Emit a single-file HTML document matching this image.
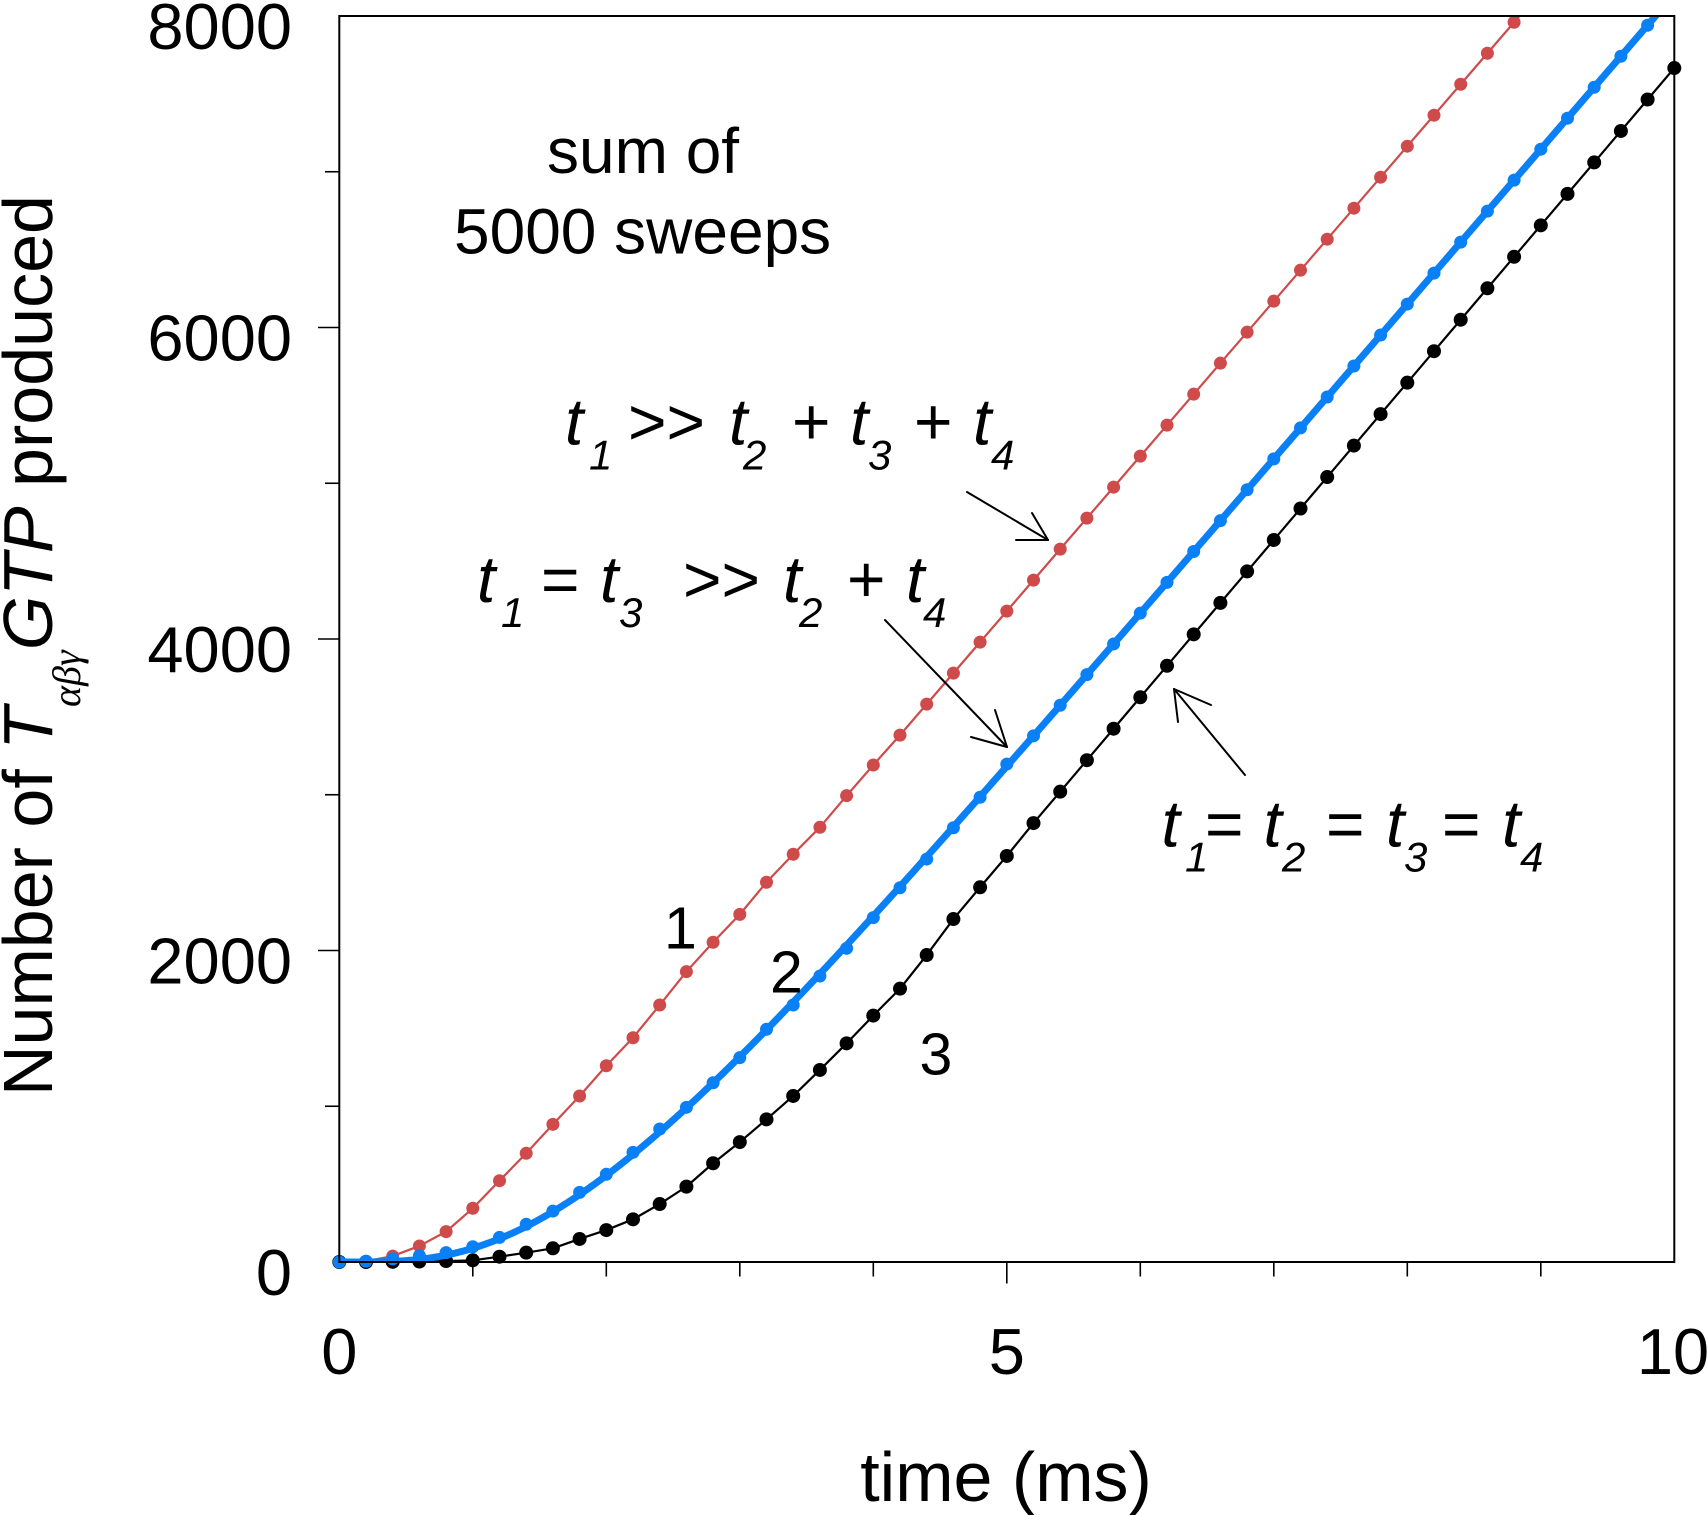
<!DOCTYPE html>
<html>
<head>
<meta charset="utf-8">
<style>
  html, body { margin: 0; padding: 0; background: #ffffff; }
  body { width: 1707px; height: 1515px; overflow: hidden; position: relative; }
  svg { position: absolute; left: 0; top: 0; }
  .tl { font-family: "Liberation Sans", Arial, sans-serif; font-size: 65px; fill: #000; }
  .ti { font-family: "Liberation Sans", Arial, sans-serif; font-size: 70px; fill: #000; }
  .an { font-family: "Liberation Sans", Arial, sans-serif; font-size: 64px; fill: #000; }
  .it { font-family: "Liberation Sans", Arial, sans-serif; font-style: italic; font-size: 66px; fill: #000; }
  .sb { font-family: "Liberation Sans", Arial, sans-serif; font-style: italic; font-size: 42px; fill: #000; }
  .nm { font-family: "Liberation Sans", Arial, sans-serif; font-size: 59px; fill: #000; }
</style>
</head>
<body>
<svg id="chart" width="1707" height="1515" viewBox="0 0 1707 1515" xmlns="http://www.w3.org/2000/svg">
  <defs>
    <clipPath id="plotclip">
      <rect x="339.3" y="16" width="1335" height="1246"/>
    </clipPath>
  </defs>

  <!-- data layers -->
  <g id="series"></g>

  <!-- axes box -->
  <rect x="339.3" y="16" width="1335" height="1246" fill="none" stroke="#000" stroke-width="2"/>

  <!-- y ticks -->
  <g stroke="#000" stroke-width="1.6">
    <line x1="325" y1="1106.25" x2="339.3" y2="1106.25"/>
    <line x1="318" y1="950.5" x2="339.3" y2="950.5"/>
    <line x1="325" y1="794.75" x2="339.3" y2="794.75"/>
    <line x1="318" y1="639" x2="339.3" y2="639"/>
    <line x1="325" y1="483.25" x2="339.3" y2="483.25"/>
    <line x1="318" y1="327.5" x2="339.3" y2="327.5"/>
    <line x1="325" y1="171.75" x2="339.3" y2="171.75"/>
  </g>
  <!-- x ticks -->
  <g stroke="#000" stroke-width="1.6">
    <line x1="472.8" y1="1262" x2="472.8" y2="1276.5"/>
    <line x1="606.3" y1="1262" x2="606.3" y2="1276.5"/>
    <line x1="739.8" y1="1262" x2="739.8" y2="1276.5"/>
    <line x1="873.3" y1="1262" x2="873.3" y2="1276.5"/>
    <line x1="1006.8" y1="1262" x2="1006.8" y2="1283.5"/>
    <line x1="1140.3" y1="1262" x2="1140.3" y2="1276.5"/>
    <line x1="1273.8" y1="1262" x2="1273.8" y2="1276.5"/>
    <line x1="1407.3" y1="1262" x2="1407.3" y2="1276.5"/>
    <line x1="1540.8" y1="1262" x2="1540.8" y2="1276.5"/>
  </g>

  <!-- y tick labels -->
  <text class="tl" x="292" y="1295" text-anchor="end">0</text>
  <text class="tl" x="292" y="983.5" text-anchor="end">2000</text>
  <text class="tl" x="292" y="672" text-anchor="end">4000</text>
  <text class="tl" x="292" y="360.5" text-anchor="end">6000</text>
  <text class="tl" x="292" y="49" text-anchor="end">8000</text>

  <!-- x tick labels -->
  <text class="tl" x="339.3" y="1374" text-anchor="middle">0</text>
  <text class="tl" x="1006.8" y="1374" text-anchor="middle">5</text>
  <text class="tl" x="1673" y="1374" text-anchor="middle">10</text>

  <!-- axis titles -->
  <text class="ti" x="1006" y="1501" text-anchor="middle">time (ms)</text>
  <text class="ti" transform="translate(52,1096) rotate(-90)" x="0" y="0">Number of <tspan font-style="italic">T</tspan><tspan font-family="'Liberation Serif', serif" font-style="italic" font-size="40" dy="28">αβγ</tspan><tspan font-style="italic" dy="-28">GTP</tspan> produced</text>

  <!-- annotation: sum of 5000 sweeps -->
  <text class="an" x="547" y="173">sum of</text>
  <text class="an" x="454" y="253.5">5000 sweeps</text>

  <!-- label line 1: t1 >> t2 + t3 + t4 -->
  <text class="it" x="565" y="444.6">t</text>
  <text class="sb" x="589" y="469.6">1</text>
  <text class="it" x="627" y="444.6">&gt;&gt;</text>
  <text class="it" x="729" y="444.6">t</text>
  <text class="sb" x="743" y="469.6">2</text>
  <text class="it" x="791" y="444.6">+</text>
  <text class="it" x="850" y="444.6">t</text>
  <text class="sb" x="868" y="469.6">3</text>
  <text class="it" x="913" y="444.6">+</text>
  <text class="it" x="973" y="444.6">t</text>
  <text class="sb" x="991" y="469.6">4</text>

  <!-- label line 2: t1 = t3 >> t2 + t4 -->
  <text class="it" x="477" y="601.8">t</text>
  <text class="sb" x="501" y="626.8">1</text>
  <text class="it" x="540" y="601.8">=</text>
  <text class="it" x="600" y="601.8">t</text>
  <text class="sb" x="619" y="626.8">3</text>
  <text class="it" x="682" y="601.8">&gt;&gt;</text>
  <text class="it" x="783" y="601.8">t</text>
  <text class="sb" x="799" y="626.8">2</text>
  <text class="it" x="846" y="601.8">+</text>
  <text class="it" x="906" y="601.8">t</text>
  <text class="sb" x="923" y="626.8">4</text>

  <!-- label line 3: t1= t2 = t3 = t4 -->
  <text class="it" x="1161.5" y="846.7">t</text>
  <text class="sb" x="1185" y="871.7">1</text>
  <text class="it" x="1204" y="846.7">=</text>
  <text class="it" x="1263.5" y="846.7">t</text>
  <text class="sb" x="1282" y="871.7">2</text>
  <text class="it" x="1325" y="846.7">=</text>
  <text class="it" x="1386" y="846.7">t</text>
  <text class="sb" x="1404" y="871.7">3</text>
  <text class="it" x="1441" y="846.7">=</text>
  <text class="it" x="1502" y="846.7">t</text>
  <text class="sb" x="1520" y="871.7">4</text>

  <!-- curve numbers -->
  <text class="nm" x="664" y="948.3">1</text>
  <text class="nm" x="770" y="992.7">2</text>
  <text class="nm" x="919.5" y="1074.3">3</text>

  <!-- arrows -->
  <g stroke="#000" stroke-width="2" fill="none" stroke-linecap="round">
    <line x1="967" y1="492" x2="1048" y2="540"/>
    <line x1="1048" y1="540" x2="1032" y2="513"/>
    <line x1="1048" y1="540" x2="1016" y2="540"/>

    <line x1="885" y1="620" x2="1007" y2="747"/>
    <line x1="1007" y1="747" x2="995" y2="710"/>
    <line x1="1007" y1="747" x2="971" y2="737"/>

    <line x1="1245" y1="775" x2="1174" y2="689"/>
    <line x1="1174" y1="689" x2="1211" y2="705"/>
    <line x1="1174" y1="689" x2="1178" y2="722"/>
  </g>
</svg>
<script>
(function(){
  var NS = "http://www.w3.org/2000/svg";
  var g = document.getElementById("series");
  function X(t){ return 339.3 + 133.5 * t; }
  function Y(n){ return 1262 - n * 0.15575; }
  function sim(taus, R){
    var n = taus.length, P = new Float64Array(n + 1), N = 0, dt = 0.0005, out = [[0,0]];
    P[0] = 1;
    for (var s = 1; s <= 20000; s++) {
      for (var i = n - 1; i >= 0; i--) {
        var f = P[i] / taus[i] * dt;
        P[i] -= f; P[i + 1] += f;
      }
      N += R * P[n] * dt;
      if (s % 20 === 0) out.push([s * dt, N]);
    }
    return out;
  }
  function mkPath(pts, color, lw){
    var d = "";
    for (var i = 0; i < pts.length; i++) {
      d += (i ? "L" : "M") + X(pts[i][0]).toFixed(2) + " " + Y(pts[i][1]).toFixed(2);
    }
    var p = document.createElementNS(NS, "path");
    p.setAttribute("d", d);
    p.setAttribute("fill", "none");
    p.setAttribute("stroke", color);
    p.setAttribute("stroke-width", lw);
    p.setAttribute("stroke-linejoin", "round");
    p.setAttribute("stroke-linecap", "round");
    p.setAttribute("clip-path", "url(#plotclip)");
    g.appendChild(p);
  }
  function mkDots(pts, color, r){
    for (var k = 0; k < pts.length; k++) {
      if (pts[k][1] > 8020) continue;
      var c = document.createElementNS(NS, "circle");
      c.setAttribute("cx", X(pts[k][0]).toFixed(2));
      c.setAttribute("cy", Y(pts[k][1]).toFixed(2));
      c.setAttribute("r", r);
      c.setAttribute("fill", color);
      g.appendChild(c);
    }
  }

  // Red (curve 1)
  var redM = [0,5,38,103,195,345,522,698,884,1066,1260,1440,1650,1864,2053,2232,2438,2618,2791,2994,3191];
  var red = [];
  for (var i = 0; i <= 50; i++) {
    var t = i * 0.2;
    var n = (i < redM.length) ? redM[i] : 995 * (t - 0.8);
    red.push([t, n]);
  }

  // Black (curve 3)
  var blkM = [0,0,1,3,6,11,34,60,88,148,205,274,372,484,634,770,916,1066,1233,1404,1582,1755,1971,2202,2406,2607];
  var black = [];
  for (var i = 0; i <= 50; i++) {
    var t = i * 0.2;
    var n = (i < blkM.length) ? blkM[i] : 1010 * (t - 2.41);
    black.push([t, n]);
  }

  // Blue (curve 2)
  var blueLine = sim([0.82, 0.09, 0.82, 0.09], 995);
  var bluM = [0,5,20,40,60,98,158,242,327,447,563,704,854,993,1151,1312,1494,1650,1836,2014,2211,2403,2587,2788,2984,3197];
  var blueDots = [];
  for (var i = 0; i <= 50; i++) {
    var t = i * 0.2;
    var n = (i < bluM.length) ? bluM[i] : blueLine[i * 20][1];
    blueDots.push([t, n]);
  }

  mkPath(red, "#cf4a4a", 2.2);
  mkDots(red, "#cf4a4a", 6.5);
  mkPath(black, "#000000", 2.2);
  mkDots(black, "#000000", 7);
  mkPath(blueLine, "#0a80f6", 7);
  mkDots(blueDots, "#0a80f6", 6.5);
})();
</script>
</body>
</html>
